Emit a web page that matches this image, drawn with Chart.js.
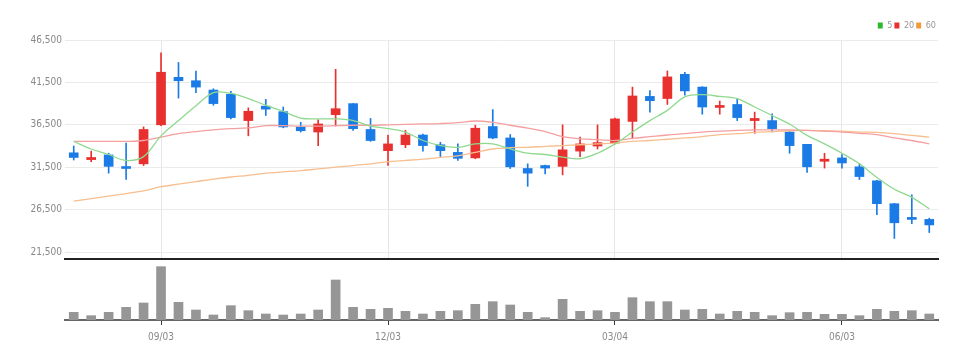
<!DOCTYPE html>
<html>
<head>
<meta charset="utf-8">
<script src="https://cdn.jsdelivr.net/npm/chart.js@4.4.0/dist/chart.umd.min.js"></script>
<style>
  body{margin:0;background:#fff}
  .wrap{position:relative;width:976px;height:360px}
  #priceCanvas{position:absolute;left:0;top:0}
  #volCanvas{position:absolute;left:0;top:262px}
</style>
</head>
<body>
<div class="wrap">
  <canvas id="priceCanvas" width="976" height="268"></canvas>
  <canvas id="volCanvas" width="976" height="98"></canvas>
</div>
<script>
// weekly candles
const categories = ['07/30','08/06','08/13','08/20','08/27','09/03','09/10','09/17','09/24','10/01',
  '10/08','10/15','10/22','10/29','11/05','11/12','11/19','11/26','12/03','12/10',
  '12/17','12/24','12/31','01/07','01/14','01/21','01/28','02/04','02/11','02/18',
  '02/25','03/04','03/11','03/18','03/25','04/01','04/08','04/15','04/22','04/29',
  '05/06','05/13','05/20','05/27','06/03','06/10','06/17','06/24','07/01','07/08'];
const tickLabels = ['09/03','12/03','03/04','06/03'];
const priceTicks = [21500, 26500, 31500, 36500, 41500, 46500];

const opens = [33200,32400,32950,31500,31900,36500,42100,41700,40600,40100,
  37000,38700,38050,36250,35650,37700,39000,35950,33450,34150,
  35300,34150,33250,32600,36300,34950,31350,31700,31600,33400,
  34000,34350,36900,39850,39600,42450,40950,38550,38900,37000,
  37000,35650,34200,32200,32600,31550,29900,27200,25550,25350];
const highs = [34000,33400,33150,34350,36250,45000,43850,42850,40750,40450,
  38500,39500,38600,36800,37100,43050,39000,37250,35300,35850,
  35400,34450,34250,36450,38300,35350,31900,31750,36500,35050,
  36500,37300,40950,40550,42850,42700,41000,39300,39500,38000,
  37800,35700,34200,33150,33000,31900,29950,27250,28250,25500];
const lows = [32350,32150,30800,30050,31700,36400,39650,40300,38800,37200,
  35200,37600,36150,35650,34050,36350,35850,34550,31700,33800,
  33400,32750,32300,32500,34850,31350,29250,30700,30600,32750,
  33650,34250,34850,38000,38900,40000,37750,37750,37000,35500,
  35650,33150,30900,31400,31400,30050,25900,23100,24850,23800];
const closes = [32650,32650,31600,31350,35950,42700,41700,40950,39000,37350,
  38100,38350,36250,35800,36600,38400,36050,34650,34250,35300,
  34050,33450,32550,36100,34950,31550,30800,31400,33550,34250,
  34400,37200,39900,39350,42150,40500,38600,38700,37350,37250,
  36050,34050,31550,32450,32000,30400,27200,24950,25350,24700];
const volumes = [23000,13000,23000,38000,51000,160000,53000,30000,15000,43000,
  28000,18000,15000,18000,30000,120000,38000,32000,35000,26000,
  18000,26000,28000,47000,55000,45000,23000,7000,62000,26000,
  28000,23000,67000,55000,55000,30000,32000,18000,26000,23000,
  13000,22000,23000,17000,17000,13000,32000,26000,28000,18000];
const ma5 = [34550,33650,33000,32300,32750,35200,37000,38750,40300,40200,
  39600,38800,38100,37300,37200,37200,37000,36350,36050,35650,
  34650,34050,33850,34250,34250,33650,33150,33000,32700,32500,
  33150,34250,35650,37000,38200,39800,40050,39850,39600,38600,
  37600,36600,35250,34250,33150,31900,30300,28900,27950,26600];
const ma20 = [34550,34550,34550,34550,34650,35050,35450,35700,35900,36050,
  36150,36400,36400,36350,36350,36400,36450,36450,36500,36550,
  36600,36650,36750,36950,36800,36450,36100,35700,35100,34850,
  34750,34650,34900,35100,35300,35450,35650,35750,35850,35900,
  35900,35900,35850,35750,35650,35500,35350,34950,34650,34250];
const ma60 = [27500,27800,28100,28400,28700,29200,29500,29800,30100,30350,
  30550,30800,30950,31100,31300,31500,31700,31900,32150,32300,
  32450,32650,32850,33250,33650,33800,33850,33950,34050,34150,
  34250,34350,34550,34650,34800,34950,35100,35350,35450,35600,
  35700,35800,35850,35800,35750,35650,35600,35450,35250,35050];

const UP = '#e8302e', DOWN = '#1b7be6';
const FONT = "'Liberation Sans Narrow','DejaVu Sans Condensed',sans-serif";
const tickIdx = tickLabels.map(l => categories.indexOf(l));
const candleColor = c => closes[c.dataIndex] >= opens[c.dataIndex] ? UP : DOWN;

function onlyLabelTicks(scale) {
  scale.ticks = tickIdx.map(v => ({ value: v }));
}

function maLine(label, data, lineColor, boxColor) {
  return {
    type: 'line', label, data,
    borderColor: lineColor, backgroundColor: boxColor,
    borderWidth: 1.3, pointRadius: 0, tension: 0.35, fill: false,
  };
}

new Chart(document.getElementById('priceCanvas'), {
  type: 'bar',
  data: {
    labels: categories,
    datasets: [
      maLine('5', ma5, '#8fd98f', '#2db82d'),
      maLine('20', ma20, '#f4a0a0', '#e8302e'),
      maLine('60', ma60, '#f7bf90', '#f39a3c'),
      {
        label: 'body',
        data: opens.map((o, i) => [o, closes[i]]),
        backgroundColor: candleColor,
        barThickness: 9, minBarLength: 2, grouped: false,
      },
      {
        label: 'wick',
        data: lows.map((l, i) => [l, highs[i]]),
        backgroundColor: candleColor,
        barThickness: 1, grouped: false,
      },
    ],
  },
  options: {
    responsive: false,
    animation: false,
    layout: { padding: { left: 0, right: 38, top: 19, bottom: 0 } },
    plugins: {
      tooltip: { enabled: false },
      legend: {
        position: 'top', align: 'end',
        labels: {
          boxWidth: 5, boxHeight: 6, padding: 2,
          color: '#999', font: { family: FONT, size: 9 },
          filter: it => ['5', '20', '60'].includes(it.text),
          generateLabels: chart => Chart.defaults.plugins.legend.labels.generateLabels(chart)
            .map(it => Object.assign(it, { lineWidth: 0, strokeStyle: 'transparent' })),
        },
      },
    },
    scales: {
      x: {
        offset: true,
        afterBuildTicks: onlyLabelTicks,
        afterFit: scale => { scale.height = 2; },
        grid: { color: '#e6e6e6', offset: false, drawTicks: false },
        ticks: { display: false, autoSkip: false },
        border: { display: true, color: '#222', width: 2 },
      },
      y: {
        min: 20680, max: 46500,
        afterBuildTicks: scale => { scale.ticks = priceTicks.map(v => ({ value: v })); },
        afterFit: scale => { scale.width = 65; },
        grid: { color: '#ebebeb', drawTicks: false },
        border: { display: false },
        ticks: {
          padding: 3, color: '#888', font: { family: FONT, size: 10 },
          callback: v => v.toLocaleString('en-US'),
        },
      },
    },
  },
});

new Chart(document.getElementById('volCanvas'), {
  type: 'bar',
  data: {
    labels: categories,
    datasets: [{
      label: 'volume', data: volumes,
      backgroundColor: '#969696', barThickness: 9,
    }],
  },
  options: {
    responsive: false,
    animation: false,
    layout: { padding: { left: 65, right: 38, top: 0, bottom: 11 } },
    plugins: { legend: { display: false }, tooltip: { enabled: false } },
    scales: {
      x: {
        offset: true,
        afterBuildTicks: onlyLabelTicks,
        grid: { drawOnChartArea: false, offset: false, tickLength: 5, tickColor: '#333', tickWidth: 1 },
        border: { display: true, color: '#666', width: 2 },
        ticks: { autoSkip: false, maxRotation: 0, padding: 6, color: '#888', font: { family: FONT, size: 10 } },
      },
      y: { display: false, min: 0, max: 174000 },
    },
  },
});
</script>
</body>
</html>
